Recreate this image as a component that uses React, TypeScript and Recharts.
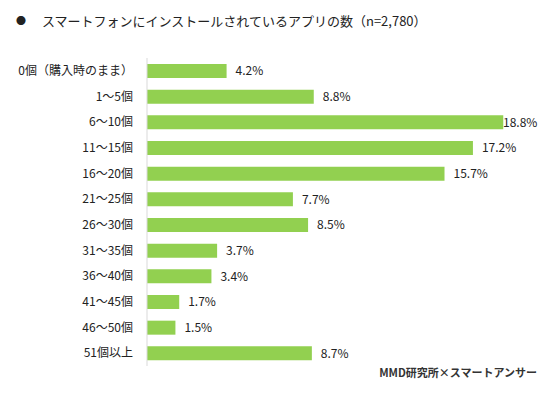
import React from "react";
import { BarChart, Bar, XAxis, YAxis, LabelList } from "recharts";

const categories = [
  "0個（購入時のまま）",
  "1～5個",
  "6～10個",
  "11～15個",
  "16～20個",
  "21～25個",
  "26～30個",
  "31～35個",
  "36～40個",
  "41～45個",
  "46～50個",
  "51個以上",
];
const values = [4.2, 8.8, 18.8, 17.2, 15.7, 7.7, 8.5, 3.7, 3.4, 1.7, 1.5, 8.7];
const title = "スマートフォンにインストールされているアプリの数（n=2,780）";
const source = "MMD研究所×スマートアンサー";

const data = categories.map((name, i) => ({ name, value: values[i] }));
const FONT = '"Noto Sans CJK JP", "Noto Sans", sans-serif';

const renderLabel = (props: any) => {
  const { x, y, width, height, value } = props;
  const text = `${Number(value).toFixed(1)}%`;
  const approxW = 37;
  let tx = Number(x) + Number(width) + 9;
  if (tx + approxW > 540) tx = 540 - approxW;
  return (
    <text
      x={tx}
      y={Number(y) + Number(height) / 2}
      dy="0.36em"
      fontSize={12}
      fill="#222"
      fontFamily={FONT}
    >
      {text}
    </text>
  );
};

export default function App() {
  return (
    <div style={{ position: "absolute", left: 0, top: 0, width: 558, height: 393, background: "#fff", fontFamily: FONT }}>
      <div style={{ position: "absolute", left: 16, top: 11, fontSize: 13, color: "#222", lineHeight: "20px", whiteSpace: "nowrap" }}>
        <span style={{ display: "inline-block", width: 26, fontSize: 10, verticalAlign: "top", lineHeight: "20px" }}>●</span>
        {title}
      </div>
      <BarChart
        width={558}
        height={393}
        data={data}
        layout="vertical"
        margin={{ top: 58, right: 32, bottom: 27, left: 0 }}
        barSize={14}
      >
        <XAxis type="number" domain={[0, 20]} hide />
        <YAxis
          type="category"
          dataKey="name"
          width={147}
          tickLine={false}
          tickMargin={8}
          axisLine={{ stroke: "#d9d9d9" }}
          tick={{ fontSize: 12, fill: "#222", fontFamily: FONT }}
          interval={0}
        />
        <Bar dataKey="value" fill="#92D050" isAnimationActive={false}>
          <LabelList dataKey="value" content={renderLabel} />
        </Bar>
      </BarChart>
      <div style={{ position: "absolute", right: 21, top: 364, fontSize: 11, fontWeight: "bold", color: "#333", whiteSpace: "nowrap", lineHeight: "16px" }}>
        {source}
      </div>
    </div>
  );
}
